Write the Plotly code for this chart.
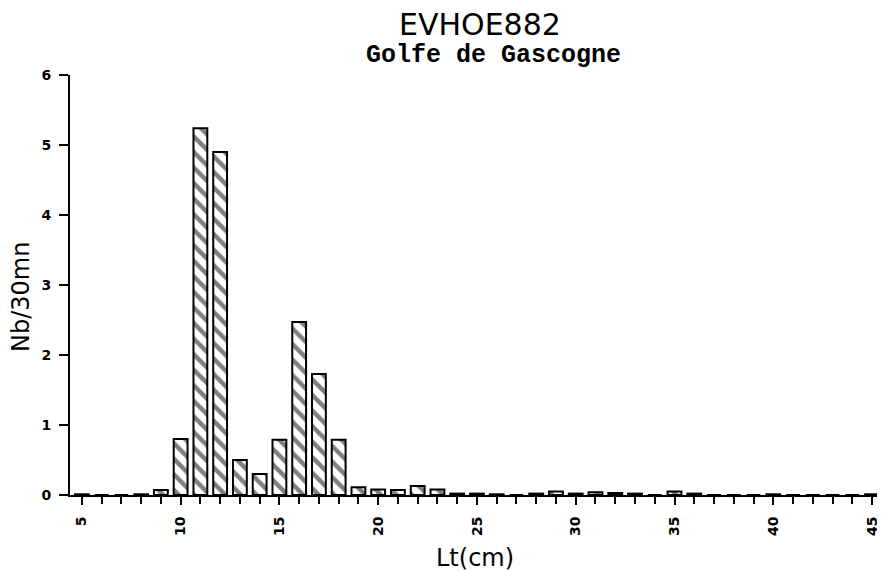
import plotly.graph_objects as go

# =============================================================================
# DATA
# =============================================================================
LENGTHS = list(range(5, 46))
COUNTS = [
    0.01, 0.0, 0.0, 0.01, 0.07,      # 5-9
    0.80, 5.24, 4.90, 0.50, 0.30,    # 10-14
    0.79, 2.47, 1.73, 0.79, 0.11,    # 15-19
    0.08, 0.07, 0.13, 0.08, 0.02,    # 20-24
    0.02, 0.01, 0.0, 0.02, 0.05,     # 25-29
    0.02, 0.04, 0.03, 0.02, 0.0,     # 30-34
    0.05, 0.02, 0.0, 0.0, 0.0,       # 35-39
    0.01, 0.0, 0.0, 0.0, 0.0,        # 40-44
    0.01,                            # 45
]
X_TICKS = [5, 10, 15, 20, 25, 30, 35, 40, 45]
Y_TICKS = [0, 1, 2, 3, 4, 5, 6]

TITLE = "EVHOE882"
SUBTITLE = "Golfe de Gascogne"
X_LABEL = "Lt(cm)"
Y_LABEL = "Nb/30mn"

# =============================================================================
# CHART
# =============================================================================
fig = go.Figure(go.Bar(
    x=LENGTHS,
    y=COUNTS,
    width=0.7,
    marker=dict(
        color="white",
        line=dict(color="black", width=2),
        pattern=dict(shape="\\", fgcolor="black", bgcolor="white",
                     size=11, solidity=0.4),
    ),
    showlegend=False,
))

axis_font = dict(family="DejaVu Sans", size=14, color="black", weight="bold")

# the page body adds an 8px offset, so the figure is 8px smaller than the window
fig.update_layout(
    width=877,
    height=564,
    margin=dict(l=62, r=5, t=67, b=77),
    plot_bgcolor="white",
    paper_bgcolor="white",
    xaxis=dict(
        range=[4.4, 45.25],
        tickvals=X_TICKS,
        tickangle=-90,
        ticks="outside",
        ticklen=8,
        tickwidth=1.5,
        tickcolor="black",
        minor=dict(dtick=1, tick0=5, ticks="outside", ticklen=7,
                   tickwidth=1.5, tickcolor="black"),
        showline=True,
        linecolor="black",
        linewidth=2,
        showgrid=False,
        zeroline=False,
        tickfont=axis_font,
        ticklabelstandoff=6,
    ),
    yaxis=dict(
        range=[0, 6],
        tickvals=Y_TICKS,
        ticks="outside",
        ticklen=9,
        tickwidth=1.5,
        tickcolor="black",
        showline=True,
        linecolor="black",
        linewidth=2,
        showgrid=False,
        zeroline=False,
        tickfont=axis_font,
        ticklabelstandoff=5,
    ),
    annotations=[
        dict(text=TITLE, xref="paper", yref="paper", x=0.508, y=1.12,
             showarrow=False, xanchor="center", yanchor="middle",
             font=dict(family="DejaVu Sans", size=30, color="black")),
        dict(text=SUBTITLE, xref="paper", yref="paper", x=0.525, y=1.047,
             showarrow=False, xanchor="center", yanchor="middle",
             font=dict(family="Liberation Mono", size=25, color="black",
                       weight="bold")),
        dict(text=X_LABEL, xref="paper", yref="paper", x=0.502, y=-0.15,
             showarrow=False, xanchor="center", yanchor="middle",
             font=dict(family="DejaVu Sans", size=24, color="black")),
        dict(text=Y_LABEL, xref="paper", yref="paper", x=-0.061, y=0.471,
             showarrow=False, xanchor="center", yanchor="middle", textangle=-90,
             font=dict(family="DejaVu Sans", size=24, color="black")),
    ],
)

fig.write_html("out.html")
